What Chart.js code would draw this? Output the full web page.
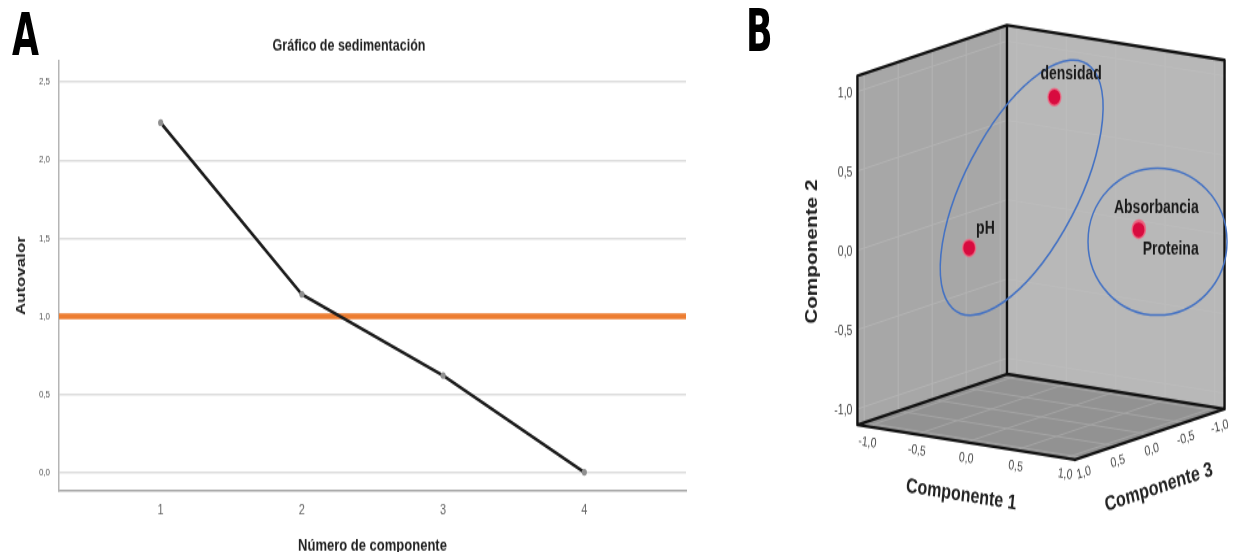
<!DOCTYPE html>
<html>
<head>
<meta charset="utf-8">
<script src="https://cdn.jsdelivr.net/npm/chart.js@4.4.1/dist/chart.umd.min.js"></script>
<style>
  html, body { margin: 0; padding: 0; background: #fff; }
  body { width: 1236px; height: 552px; overflow: hidden; }
  /* the original figure is stretched vertically, so the whole thing is drawn at 425px and scaled */
  #fig { position: relative; width: 1236px; height: 425px; transform: scaleY(1.2988); transform-origin: 0 0; }
  #fig canvas { position: absolute; top: 0; }
  .panel-letter { position: absolute; font-family: 'Liberation Sans Narrow', 'DejaVu Sans Condensed', sans-serif;
    font-stretch: condensed; font-weight: bold; font-size: 45px; line-height: 1; color: #000;
    transform: scaleX(0.86); transform-origin: 0 0; }
</style>
</head>
<body>
<div id="fig">
  <canvas id="screeChart" width="720" height="428" style="left:0"></canvas>
  <canvas id="loadingChart" width="496" height="425" style="left:740px"></canvas>
  <div class="panel-letter" style="left:12px; top:4px">A</div>
  <div class="panel-letter" style="left:746px; top:1px">B</div>
</div>
<script>
// Panel A - grafico de sedimentacion
const screeComponents = [1, 2, 3, 4];
const screeEigenvalues = [2.24, 1.14, 0.62, 0.0];
const screeYTicks = [0, 0.5, 1.0, 1.5, 2.0, 2.5];
const kaiserCutoff = 1.0;

// Panel B - componentes en espacio rotado
const loadingVariables = ['densidad', 'pH', 'Absorbancia', 'Proteina'];
const loadingComp1 = [0.17, -0.06, 0.97, 0.96];
const loadingComp2 = [0.94, 0.10, 0.18, 0.17];
const loadingComp3 = [0.05, 0.97, -0.03, -0.04];
const cubeTicks = [-1.0, -0.5, 0.0, 0.5, 1.0];

const comma = v => v.toFixed(1).replace('.', ',');
const FONT = "'Liberation Sans', Arial, sans-serif";
Chart.defaults.font.family = FONT;
Chart.defaults.animation = false;

// orange reference line at eigenvalue 1
const kaiserLine = {
  id: 'kaiserLine',
  beforeDatasetsDraw(chart) {
    const {ctx, chartArea: a, scales: {y}} = chart;
    const py = y.getPixelForValue(kaiserCutoff);
    ctx.save();
    ctx.strokeStyle = '#ed7d31';
    ctx.lineWidth = 4.5;
    ctx.beginPath();
    ctx.moveTo(a.left, py);
    ctx.lineTo(a.right, py);
    ctx.stroke();
    ctx.restore();
  }
};

new Chart(document.getElementById('screeChart'), {
  type: 'scatter',
  data: {
    datasets: [{
      data: screeComponents.map((c, i) => ({x: c, y: screeEigenvalues[i]})),
      showLine: true,
      borderColor: '#1c1c1c',
      borderWidth: 2.6,
      pointRadius: 2.6,
      pointBackgroundColor: '#8f8f8f',
      pointBorderWidth: 0
    }]
  },
  options: {
    responsive: false,
    layout: {autoPadding: false, padding: {left: 12, right: 34, top: 0, bottom: 0}},
    plugins: {
      legend: {display: false},
      tooltip: {enabled: false},
      title: {
        display: true,
        text: 'Gráfico de sedimentación',
        color: '#222',
        font: {size: 12.5, weight: 'bold'},
        padding: {top: 28, bottom: 3.4}
      }
    },
    scales: {
      x: {
        type: 'linear',
        min: 0.28,
        max: 4.72,
        afterBuildTicks: s => { s.ticks = screeComponents.map(v => ({value: v})); },
        afterFit: s => { s.height = 50; },
        grid: {display: false, drawTicks: false},
        border: {display: true, color: '#a6a6a6', width: 1.5},
        ticks: {color: '#666', font: {size: 11}, padding: 8, callback: v => String(v)},
        title: {
          display: true,
          text: 'Número de componente',
          color: '#222',
          font: {size: 13, weight: 'bold'},
          padding: {top: 0, bottom: 0}
        }
      },
      y: {
        min: -0.12,
        max: 2.64,
        afterBuildTicks: s => { s.ticks = screeYTicks.map(v => ({value: v})); },
        afterFit: s => { s.width = 47; },
        grid: {color: '#dcdcdc', lineWidth: 1.5, drawTicks: false},
        border: {display: true, color: '#b5b5b5', width: 1.5},
        ticks: {color: '#555', font: {size: 8}, padding: 9, callback: v => comma(v)},
        title: {
          display: true,
          text: 'Autovalor',
          color: '#222',
          font: {size: 13, weight: 'bold'},
          padding: {top: 2, bottom: 0}
        }
      }
    }
  },
  plugins: [kaiserLine]
});

// 3D view of the component cube (orthographic)
const cubeView = {azimuth: 34.5, elevation: 10, half: 1.1};
function project(c1, c2, c3) {
  const az = cubeView.azimuth * Math.PI / 180;
  const el = cubeView.elevation * Math.PI / 180;
  return {
    x: c1 * Math.cos(az) - c3 * Math.sin(az),
    y: c2 * Math.cos(el) - (c1 * Math.sin(az) + c3 * Math.cos(az)) * Math.sin(el)
  };
}

// blue group outlines, centre in view units, radii in px
const groupEllipses = [
  {u: -0.161, v: 0.340, rx: 115.8, ry: 53.6, rotation: -53.3},
  {u: 0.971, v: 0.005, rx: 69.5, ry: 56.6, rotation: 0}
];
const pointLabelOffsets = {
  densidad: [-14, -18], pH: [7, -14.6], Absorbancia: [-25, -16], Proteina: [4, 15.4]
};

function drawText(ctx, text, x, y, angle, font, color, align) {
  ctx.save();
  ctx.translate(x, y);
  ctx.rotate(angle);
  ctx.font = font;
  ctx.fillStyle = color;
  ctx.textAlign = align || 'center';
  ctx.textBaseline = 'middle';
  ctx.fillText(text, 0, 0);
  ctx.restore();
}

const cubeFrame = {
  id: 'cubeFrame',
  beforeDatasetsDraw(chart) {
    const {ctx, scales: {x, y}} = chart;
    const h = cubeView.half;
    const P = (a, b, c) => {
      const p = project(a, b, c);
      return [x.getPixelForValue(p.x), y.getPixelForValue(p.y)];
    };
    const face = (pts, fill) => {
      ctx.beginPath();
      pts.forEach((p, i) => {
        const q = P(...p);
        if (i) ctx.lineTo(q[0], q[1]); else ctx.moveTo(q[0], q[1]);
      });
      ctx.closePath();
      ctx.fillStyle = fill;
      ctx.fill();
    };
    const seg = (p0, p1) => {
      const a = P(...p0), b = P(...p1);
      ctx.moveTo(a[0], a[1]);
      ctx.lineTo(b[0], b[1]);
    };
    ctx.save();
    face([[-h, -h, -h], [-h, -h, h], [-h, h, h], [-h, h, -h]], '#a7a7a7');
    face([[-h, -h, -h], [h, -h, -h], [h, h, -h], [-h, h, -h]], '#b8b8b8');
    face([[-h, -h, -h], [h, -h, -h], [h, -h, h], [-h, -h, h]], '#929292');

    ctx.lineWidth = 1;
    ctx.strokeStyle = '#b4b4b4';
    ctx.beginPath();
    cubeTicks.forEach(t => { seg([-h, -h, t], [-h, h, t]); seg([-h, t, -h], [-h, t, h]); });
    ctx.stroke();
    ctx.strokeStyle = '#bdbdbd';
    ctx.beginPath();
    cubeTicks.forEach(t => { seg([t, -h, -h], [t, h, -h]); seg([-h, t, -h], [h, t, -h]); });
    ctx.stroke();
    ctx.strokeStyle = '#a5a5a5';
    ctx.beginPath();
    cubeTicks.forEach(t => { seg([t, -h, -h], [t, -h, h]); seg([-h, -h, t], [h, -h, t]); });
    ctx.stroke();

    ctx.strokeStyle = '#111';
    ctx.lineWidth = 2.4;
    ctx.lineCap = 'round';
    ctx.beginPath();
    seg([-h, -h, h], [-h, h, h]);
    seg([-h, -h, -h], [-h, h, -h]);
    seg([h, -h, -h], [h, h, -h]);
    seg([-h, h, h], [-h, h, -h]);
    seg([-h, h, -h], [h, h, -h]);
    seg([-h, -h, h], [h, -h, h]);
    seg([h, -h, h], [h, -h, -h]);
    seg([h, -h, -h], [-h, -h, -h]);
    seg([-h, -h, -h], [-h, -h, h]);
    ctx.stroke();

    ctx.strokeStyle = '#4472c4';
    ctx.lineWidth = 1.5;
    groupEllipses.forEach(e => {
      ctx.beginPath();
      ctx.ellipse(x.getPixelForValue(e.u), y.getPixelForValue(e.v), e.rx, e.ry,
        e.rotation * Math.PI / 180, 0, Math.PI * 2);
      ctx.stroke();
    });

    const a1 = P(-h, -h, h), b1 = P(h, -h, h), b3 = P(h, -h, -h);
    const ang1 = Math.atan2(b1[1] - a1[1], b1[0] - a1[0]);
    const ang3 = Math.atan2(b3[1] - b1[1], b3[0] - b1[0]);
    const tickFont = "10.5px " + FONT;
    cubeTicks.forEach(t => {
      const p2 = P(-h, t, h);
      drawText(ctx, comma(t), p2[0] - 5, p2[1] + 1.5, 0, tickFont, '#444', 'right');
      const p1 = P(t, -h, h);
      drawText(ctx, comma(t), p1[0], p1[1] + 12.5, ang1, tickFont, '#444');
      const p3 = P(h, -h, t);
      drawText(ctx, comma(t), p3[0] + 2, p3[1] + 12, ang3, tickFont, '#444');
    });

    const titleFont = "bold 16px " + FONT;
    const t1 = P(0, -h, h), t3 = P(h, -h, 0), t2 = P(-h, 0, h);
    drawText(ctx, 'Componente 1', t1[0] - 5, t1[1] + 40.6, ang1, titleFont, '#222');
    drawText(ctx, 'Componente 3', t3[0] + 9, t3[1] + 41, ang3, titleFont, '#222');
    drawText(ctx, 'Componente 2', t2[0] - 45, t2[1] + 1, -Math.PI / 2, titleFont, '#222');
    ctx.restore();
  },
  afterDatasetsDraw(chart) {
    const {ctx} = chart;
    const meta = chart.getDatasetMeta(0);
    meta.data.forEach((pt, i) => {
      const name = loadingVariables[i];
      const off = pointLabelOffsets[name];
      drawText(ctx, name, pt.x + off[0], pt.y + off[1], 0, "bold 14px " + FONT, '#1a1a1a', 'left');
    });
  }
};

new Chart(document.getElementById('loadingChart'), {
  type: 'scatter',
  data: {
    datasets: [{
      data: loadingVariables.map((n, i) => project(loadingComp1[i], loadingComp2[i], loadingComp3[i])),
      pointRadius: 6.5,
      pointBackgroundColor: '#d80b3f',
      pointBorderColor: 'rgba(236, 110, 135, 0.8)',
      pointBorderWidth: 1.5
    }]
  },
  options: {
    responsive: false,
    layout: {autoPadding: false, padding: 0},
    plugins: {legend: {display: false}, tooltip: {enabled: false}},
    scales: {
      x: {type: 'linear', display: false, min: -2.508, max: 1.625},
      y: {type: 'linear', display: false, min: -1.922, max: 1.505}
    }
  },
  plugins: [cubeFrame]
});
</script>
</body>
</html>
